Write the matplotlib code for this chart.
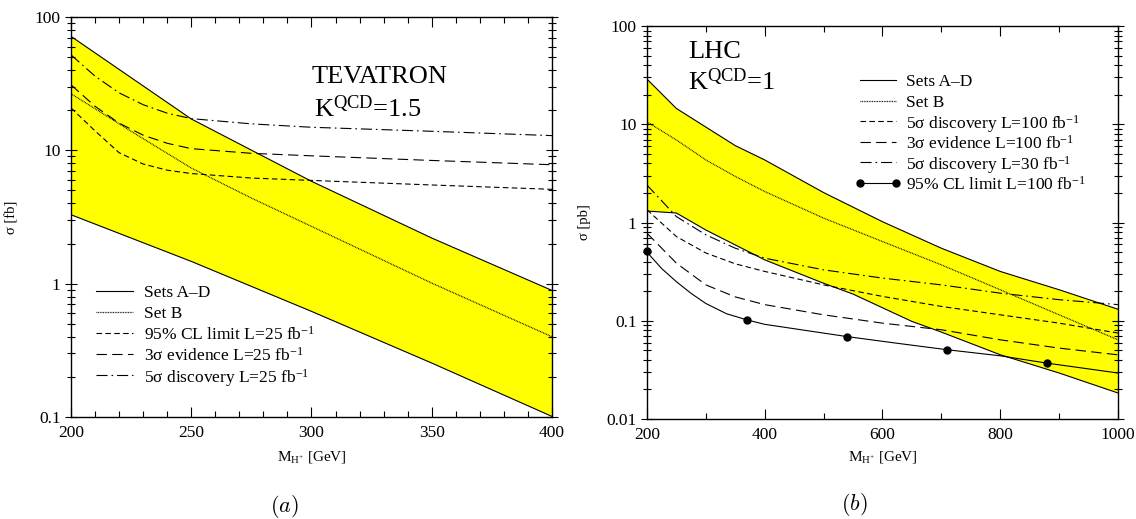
import matplotlib
matplotlib.use('Agg')
import matplotlib.pyplot as plt
from matplotlib.ticker import LogLocator, MultipleLocator, FuncFormatter, NullFormatter
import numpy as np

plt.rcParams['font.family'] = ['Liberation Serif', 'DejaVu Serif']
plt.rcParams['mathtext.fontset'] = 'custom'
plt.rcParams['mathtext.rm'] = 'Liberation Serif'
plt.rcParams['mathtext.it'] = 'Liberation Serif:italic'
plt.rcParams['lines.scale_dashes'] = False

# ---- Tevatron, K_QCD = 1.5 (sigma in fb) ----
tev_band_m = [200, 250, 300, 350, 400]
tev_band_hi = [71.6, 17.2, 5.86, 2.2, 0.89]
tev_band_lo = [3.29, 1.47, 0.62, 0.254, 0.101]

tev_setb_m = [200, 225, 250, 275, 300, 350, 400]
tev_setb = [26.6, 13.9, 7.37, 4.39, 2.69, 1.01, 0.40]

tev_lim_m = [200, 210, 220, 230, 240, 250, 275, 300, 350, 400]
tev_cl95 = [20.8, 14.0, 9.6, 7.9, 7.1, 6.7, 6.2, 5.95, 5.5, 5.1]
tev_ev3 = [31.0, 21.4, 16.0, 13.0, 11.3, 10.3, 9.5, 9.1, 8.4, 7.8]
tev_disc5 = [52.0, 36.0, 27.0, 22.0, 19.0, 17.3, 15.8, 14.9, 13.9, 12.9]

# ---- LHC, K_QCD = 1 (sigma in pb) ----
lhc_hi_m = [200, 250, 350, 400, 500, 600, 700, 800, 900, 1000]
lhc_band_hi = [28.9, 14.5, 6.07, 4.34, 2.02, 1.02, 0.548, 0.318, 0.207, 0.131]
lhc_lo_m = [200, 250, 300, 400, 500, 550, 650, 700, 800, 900, 1000]
lhc_band_lo = [1.31, 1.25, 0.84, 0.417, 0.241, 0.187, 0.0985, 0.0767, 0.0451, 0.0294, 0.0184]

lhc_m = [200, 250, 300, 350, 400, 500, 600, 700, 800, 900, 1000]
lhc_setb = [10.6, 6.93, 4.34, 2.95, 2.07, 1.11, 0.641, 0.371, 0.207, 0.115, 0.064]
lhc_disc5_100 = [1.35, 0.72, 0.49, 0.38, 0.318, 0.232, 0.177, 0.14, 0.115, 0.0946, 0.075]
lhc_ev3_100 = [0.78, 0.386, 0.232, 0.175, 0.146, 0.115, 0.0946, 0.081, 0.064, 0.0527, 0.045]
lhc_disc5_30 = [2.41, 1.15, 0.75, 0.548, 0.434, 0.33, 0.272, 0.232, 0.191, 0.164, 0.146]

lhc_cl95_m = [200, 225, 250, 275, 300, 335, 370, 400, 450, 540, 625, 710, 800, 880, 1000]
lhc_cl95 = [0.50, 0.34, 0.25, 0.19, 0.15, 0.118, 0.102, 0.092, 0.083, 0.069, 0.059,
            0.0507, 0.044, 0.037, 0.0294]
lhc_pts_m = [200, 370, 540, 710, 880]
lhc_pts = [0.51, 0.102, 0.069, 0.0507, 0.037]

LW = 0.8
SOLID = dict(color='black', lw=LW, ls='-')
DOTTED = dict(color='black', lw=0.9, ls=(0, (0.6, 0.6)))
SHORT = dict(color='black', lw=LW, ls=(0, (4.0, 2.4)))
LONG = dict(color='black', lw=LW, ls=(0, (7.5, 3.8)))
DASHDOT = dict(color='black', lw=LW, ls=(0, (8.0, 2.8, 1.2, 2.8)))
YELLOW = '#ffff00'


def style_axes(ax, xmaj, xmin):
    ax.set_yscale('log')
    for s in ax.spines.values():
        s.set_linewidth(1.0)
    ax.xaxis.set_major_locator(MultipleLocator(xmaj))
    ax.xaxis.set_minor_locator(MultipleLocator(xmin))
    ax.yaxis.set_major_locator(LogLocator(base=10))
    ax.yaxis.set_minor_locator(LogLocator(base=10, subs=np.arange(2, 10)))
    ax.yaxis.set_minor_formatter(NullFormatter())
    ax.yaxis.set_major_formatter(FuncFormatter(lambda v, _: f'{v:g}'))
    ax.tick_params(which='both', top=True, right=True, labelsize=12.5, width=0.8)
    ax.tick_params(axis='x', which='major', direction='in', length=7, pad=6)
    ax.tick_params(axis='x', which='minor', direction='in', length=4)
    ax.tick_params(axis='y', which='major', direction='inout', length=9, pad=3)
    ax.tick_params(axis='y', which='minor', direction='inout', length=6)


def draw_key(ax, x, y, dy, xlen, xtxt, entries):
    for i, (label, style, marks) in enumerate(entries):
        yy = y - i * dy
        kw = dict(style)
        if marks:
            kw.update(marker='o', markersize=5, markerfacecolor='black')
        ax.plot([x, x + xlen], [yy, yy], transform=ax.transAxes, clip_on=False, **kw)
        ax.text(xtxt, yy, label, transform=ax.transAxes, fontsize=12.5,
                va='center_baseline', ha='left')


fig = plt.figure(figsize=(11.36, 5.19), dpi=100)

# (a) Tevatron
ax1 = fig.add_axes([0.0625, 0.1965, 0.4234, 0.7707])
ax1.fill_between(tev_band_m, tev_band_lo, tev_band_hi, color=YELLOW, lw=0)
ax1.plot(tev_band_m, tev_band_hi, **SOLID)
ax1.plot(tev_band_m, tev_band_lo, **SOLID)
ax1.plot(tev_setb_m, tev_setb, **DOTTED)
ax1.plot(tev_lim_m, tev_cl95, **SHORT)
ax1.plot(tev_lim_m, tev_ev3, **LONG)
ax1.plot(tev_lim_m, tev_disc5, **DASHDOT)
ax1.set_xlim(200, 400)
ax1.set_ylim(0.1, 100)
style_axes(ax1, 50, 10)
ax1.set_ylabel('σ [fb]', fontsize=10.5)
ax1.yaxis.set_label_coords(-0.11, 0.5)
ax1.set_xlabel(r'M$_{\mathrm{H}^{+}}$ [GeV]', fontsize=11)
ax1.xaxis.set_label_coords(0.5, -0.08)
ax1.text(0.501, 0.835, 'TEVATRON', transform=ax1.transAxes, fontsize=19, va='baseline')
ax1.text(0.505, 0.75, r'K$^{\mathrm{QCD}}$=1.5', transform=ax1.transAxes, fontsize=19,
         va='baseline')
draw_key(ax1, 0.052, 0.315, 0.0525, 0.077, 0.152, [
    ('Sets A–D', SOLID, False),
    ('Set B', DOTTED, False),
    (r'95% CL limit L=25 fb$^{-1}$', SHORT, False),
    (r'3σ evidence L=25 fb$^{-1}$', LONG, False),
    (r'5σ discovery L=25 fb$^{-1}$', DASHDOT, False),
])

# (b) LHC
ax2 = fig.add_axes([0.5695, 0.1927, 0.4146, 0.757])
ax2.fill(np.r_[lhc_hi_m, lhc_lo_m[::-1]], np.r_[lhc_band_hi, lhc_band_lo[::-1]],
         color=YELLOW, lw=0)
ax2.plot(lhc_hi_m, lhc_band_hi, **SOLID)
ax2.plot(lhc_lo_m, lhc_band_lo, **SOLID)
ax2.plot(lhc_m, lhc_setb, **DOTTED)
ax2.plot(lhc_m, lhc_disc5_100, **SHORT)
ax2.plot(lhc_m, lhc_ev3_100, **LONG)
ax2.plot(lhc_m, lhc_disc5_30, **DASHDOT)
ax2.plot(lhc_cl95_m, lhc_cl95, **SOLID)
ax2.plot(lhc_pts_m, lhc_pts, 'o', color='black', markersize=5, clip_on=False)
ax2.set_xlim(200, 1000)
ax2.set_ylim(0.01, 100)
style_axes(ax2, 200, 100)
ax2.set_ylabel('σ [pb]', fontsize=10.5)
ax2.yaxis.set_label_coords(-0.119, 0.5)
ax2.set_xlabel(r'M$_{\mathrm{H}^{+}}$ [GeV]', fontsize=11)
ax2.xaxis.set_label_coords(0.5, -0.076)
ax2.text(0.087, 0.919, 'LHC', transform=ax2.transAxes, fontsize=19, va='baseline')
ax2.text(0.087, 0.837, r'K$^{\mathrm{QCD}}$=1', transform=ax2.transAxes, fontsize=19,
         va='baseline')
draw_key(ax2, 0.452, 0.863, 0.0524, 0.0764, 0.55, [
    ('Sets A–D', SOLID, False),
    ('Set B', DOTTED, False),
    (r'5σ discovery L=100 fb$^{-1}$', SHORT, False),
    (r'3σ evidence L=100 fb$^{-1}$', LONG, False),
    (r'5σ discovery L=30 fb$^{-1}$', DASHDOT, False),
    (r'95% CL limit L=100 fb$^{-1}$', SOLID, True),
])

# panel tags
fig.text(0.25, 0.025, r'$(a)$', fontsize=16, ha='center', va='center', math_fontfamily='cm')
fig.text(0.752, 0.027, r'$(b)$', fontsize=16, ha='center', va='center', math_fontfamily='cm')

fig.savefig('out.png', dpi=100)
